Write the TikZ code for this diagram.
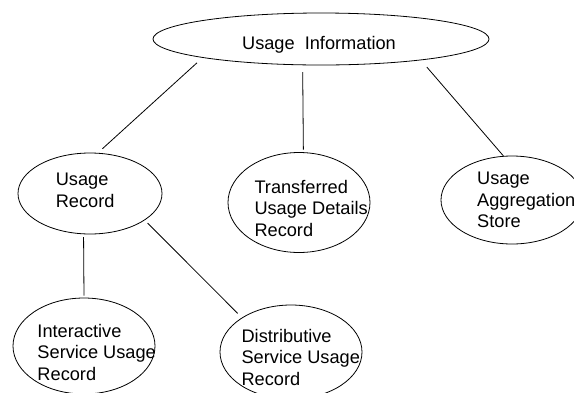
\documentclass[tikz,border=0pt]{standalone}
\usepackage{fontspec}
\setmainfont{Liberation Sans}
\usetikzlibrary{shapes.geometric}
\begin{document}
\begin{tikzpicture}[x=1pt,y=-1pt,
  ell/.style={draw,ellipse,inner sep=0pt,line width=0.8pt},
  lbl/.style={inner sep=0pt,align=left,font=\fontsize{18.2}{21.5}\selectfont},
  conn/.style={line width=0.8pt}]
\useasboundingbox (0,0) rectangle (574,392);
\clip (0,0) rectangle (574,392);
\fill[white] (0,0) rectangle (574,392);
% ellipses
\node[ell,minimum width=336pt,minimum height=52pt] (ui) at (321,39) {};
\node[ell,minimum width=144pt,minimum height=81pt] (ur) at (90,193.5) {};
\node[ell,minimum width=142pt,minimum height=100pt] (tu) at (299,202.5) {};
\node[ell,minimum width=142pt,minimum height=88pt] (ag) at (512,200) {};
\node[ell,minimum width=142pt,minimum height=96pt] (ir) at (84,346) {};
\node[ell,minimum width=142pt,minimum height=94pt] (dr) at (291,352) {};
% labels
\node[lbl,anchor=base] (uit) at (319,49.3) {Usage\ \ Information};
\node[lbl,anchor=west] (urt) at (55.6,190.5) {Usage\\Record};
\node[lbl,anchor=west] (tut) at (254.3,208) {Transferred\\Usage Details\\Record};
\node[lbl,anchor=west] (agt) at (477,200) {Usage\\Aggregation\\Store};
\node[lbl,anchor=west] (irt) at (37.3,352) {Interactive\\Service Usage\\Record};
\node[lbl,anchor=west] (drt) at (241.4,357) {Distributive\\Service Usage\\Record};
% connectors
\draw[conn,shorten <=7.5pt,shorten >=6pt] (ui.189.2) -- (ur.79.4);
\draw[conn,shorten <=7pt,shorten >=2.5pt] (ui.235) -- (tu.85.4);
\draw[conn,shorten <=9pt] (ui.348.85) -- (ag.101.6);
\draw[conn,shorten <=3pt,shorten >=2pt] (ur.261.5) -- (ir.90);
\draw[conn,shorten <=4pt,shorten >=6pt] (ur.334.2) -- (dr.145.9);
\end{tikzpicture}
\end{document}
